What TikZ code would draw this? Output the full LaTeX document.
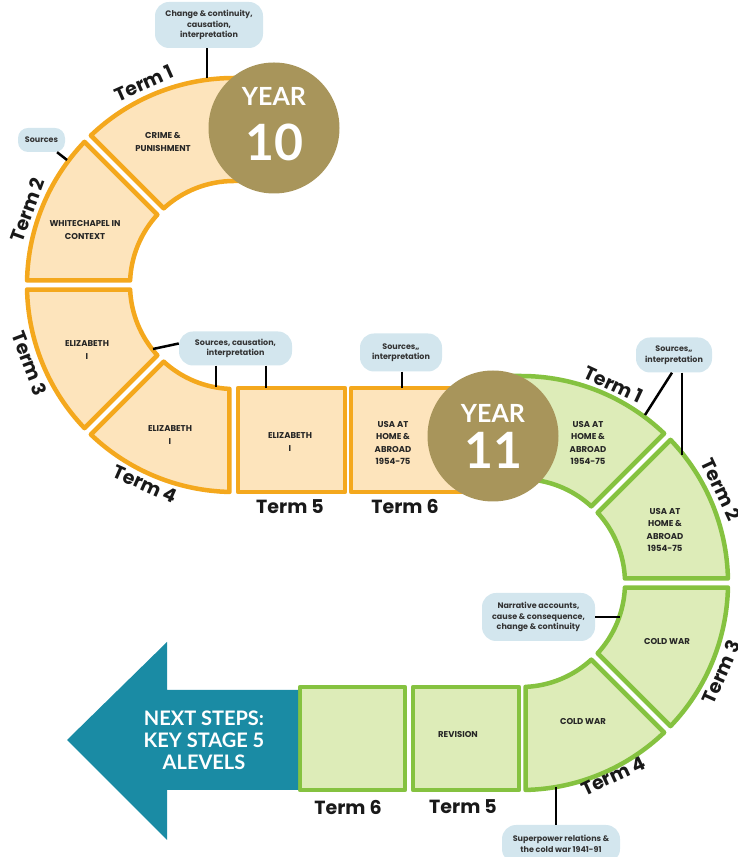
\documentclass[tikz,border=0pt]{standalone}
\usepackage{fontspec}
\setmainfont{Poppins}
\newfontfamily\latofont{Lato}
\usepackage{tikz}
\usetikzlibrary{positioning,calc}

\definecolor{segorange}{HTML}{F4A81D}
\definecolor{segpeach}{HTML}{FDE4BC}
\definecolor{seggreen}{HTML}{85C240}
\definecolor{segmint}{HTML}{DDECB8}
\definecolor{yeargold}{HTML}{A8955B}
\definecolor{bubblue}{HTML}{D3E6EE}
\definecolor{nextteal}{HTML}{1A8BA4}

% radii of the two half rings and the gap offsets
\def\Ro{207}
\def\Ri{104}
\def\dO{1.25}
\def\dI{2.5}

\begin{document}
\begin{tikzpicture}[x=1pt,y=1pt,
    orangeseg/.style={draw=segorange,fill=segpeach,line width=4.5pt,line join=round},
    greenseg/.style={draw=seggreen,fill=segmint,line width=4.5pt,line join=round},
    seglabel/.style={align=center,font=\fontsize{8.5}{12.5}\selectfont\bfseries,text=black!85},
    termlabel/.style={font=\fontsize{19}{20}\selectfont\bfseries,text=black!90},
    bubble/.style={fill=bubblue,rounded corners=14pt,align=center,inner sep=2pt,
        font=\fontsize{8}{10.5}\selectfont\bfseries,text=black!80},
    yearbadge/.style={circle,fill=yeargold,minimum size=131pt,inner sep=0pt},
    yeartext/.style={text=white,font=\latofont\bfseries},
    link/.style={line width=2.5pt}]
    \useasboundingbox (0,0) rectangle (738,857);
    \clip (0,0) rectangle (738,857);

    % Year 10 half ring
    \begin{scope}[shift={(234,572)}]
        \draw[orangeseg] (40,\Ro) -- (90:\Ro) arc[start angle=90,end angle=135-\dO,radius=\Ro]
            -- (135-\dI:\Ri) arc[start angle=135-\dI,end angle=90,radius=\Ri] -- (40,\Ri) -- cycle;
        \foreach \a/\b in {135/180,180/225,225/270}
            \draw[orangeseg] (\a+\dO:\Ro) arc[start angle=\a+\dO,end angle=\b-\dO,radius=\Ro]
                -- (\b-\dI:\Ri) arc[start angle=\b-\dI,end angle=\a+\dI,radius=\Ri] -- cycle;
        \node[termlabel,rotate=24] (lterm1) at (114:221) {Term 1};
        \node[termlabel,rotate=70] (lterm2) at (160:220) {Term 2};
        \node[termlabel,rotate=-69] (lterm3) at (201:219) {Term 3};
        \node[termlabel,rotate=-24] (lterm4) at (246:218) {Term 4};
    \end{scope}
    \draw[orangeseg] (238,365) rectangle (345,469);
    \draw[orangeseg] (351,365) rectangle (470,469);

    % Year 11 half ring
    \begin{scope}[shift={(521,274)}]
        \draw[greenseg] (-28,\Ro) -- (90:\Ro) arc[start angle=90,end angle=45+\dO,radius=\Ro]
            -- (45+\dI:\Ri) arc[start angle=45+\dI,end angle=90,radius=\Ri] -- (-28,\Ri) -- cycle;
        \foreach \a/\b in {45/0,0/-45,-45/-90}
            \draw[greenseg] (\a-\dO:\Ro) arc[start angle=\a-\dO,end angle=\b+\dO,radius=\Ro]
                -- (\b+\dI:\Ri) arc[start angle=\b+\dI,end angle=\a-\dI,radius=\Ri] -- cycle;
        \node[termlabel,rotate=-25] (rterm1) at (65:219) {Term 1};
        \node[termlabel,rotate=-65] (rterm2) at (25:221) {Term 2};
        \node[termlabel,rotate=66] (rterm3) at (-24:219) {Term 3};
        \node[termlabel,rotate=25] (rterm4) at (-64.5:214) {Term 4};
    \end{scope}
    \draw[greenseg] (300,67) rectangle (405,170);
    \draw[greenseg] (413,67) rectangle (519,170);

    % next steps arrow
    \fill[nextteal] (67,117) -- (167,215) -- (167,167) -- (298,167) -- (298,67)
        -- (167,67) -- (167,17) -- cycle;
    \node[text=white,align=center,font=\latofont\bfseries\fontsize{20}{22}\selectfont] (next) at (204,117)
        {NEXT STEPS:\\KEY STAGE 5\\ALEVELS};

    % year badges
    \node[yearbadge] (y10) at (274,729) {};
    \node[yeartext,font=\latofont\bfseries\fontsize{25}{25}\selectfont] (y10a) at ([yshift=32]y10.center) {YEAR};
    \node[yeartext,font=\latofont\bfseries\fontsize{50}{50}\selectfont] (y10b) at ([yshift=-14]y10.center) {10};
    \node[yearbadge] (y11) at (493,421) {};
    \node[yeartext,font=\latofont\bfseries\fontsize{25}{25}\selectfont] (y11a) at ([yshift=23]y11.center) {YEAR};
    \node[yeartext,font=\latofont\bfseries\fontsize{50}{50}\selectfont] (y11b) at ([yshift=-14]y11.center) {11};

    % topics
    \node[seglabel] (crime) at (163,715) {CRIME \&\\PUNISHMENT};
    \node[seglabel] (white) at (85,627) {WHITECHAPEL IN\\CONTEXT};
    \node[seglabel] (eliz3) at (87,507) {ELIZABETH\\I};
    \node[seglabel] (eliz4) at (170,422) {ELIZABETH\\I};
    \node[seglabel] (eliz5) at (290,415) {ELIZABETH\\I};
    \node[seglabel] (usa6) at (393,414) {USA AT\\HOME \&\\ABROAD\\1954-75};
    \node[seglabel] (usa1) at (588,414) {USA AT\\HOME \&\\ABROAD\\1954-75};
    \node[seglabel] (usa2) at (665,327) {USA AT\\HOME \&\\ABROAD\\1954-75};
    \node[seglabel] (cold3) at (667,215) {COLD WAR};
    \node[seglabel] (cold4) at (583,135) {COLD WAR};
    \node[seglabel] (revis) at (458,122) {REVISION};

    \node[termlabel] (oterm5) at (290,350) {Term 5};
    \node[termlabel] (oterm6) at (405,350) {Term 6};
    \node[termlabel] (gterm6) at (348,50) {Term 6};
    \node[termlabel] (gterm5) at (463,50) {Term 5};

    % skills bubbles
    \node[bubble,minimum width=108pt,minimum height=46pt] (chgbub) at (209,832)
        {Change \& continuity,\\causation,\\interpretation};
    \node[bubble,minimum width=47pt,minimum height=24pt,rounded corners=10pt] (srcbub) at (41.5,717) {Sources};
    \node[bubble,minimum width=113pt,minimum height=34pt] (scibub) at (235.5,508.5)
        {Sources, causation,\\interpretation};
    \node[bubble,minimum width=82pt,minimum height=38pt] (s2bub) at (401,504.5) {Sources,,\\interpretation};
    \node[bubble,minimum width=76pt,minimum height=35pt] (rsrcbub) at (674,502) {Sources,,\\interpretation};
    \node[bubble,minimum width=113pt,minimum height=48pt] (narbub) at (538.5,240)
        {Narrative accounts,\\cause \& consequence,\\change \& continuity};
    \node[bubble,minimum width=118pt,minimum height=38pt] (supbub) at (561,13)
        {Superpower relations \&\\the cold war 1941-91};

    % connectors
    \coordinate (chgarc) at (207,779);
    \coordinate (srcarc) at (67,697);
    \coordinate (sciarc) at (153,508);
    \coordinate (sci4) at (216,470);
    \coordinate (sci5) at (266,469);
    \coordinate (s2arc) at (402,469);
    \coordinate (rarc1) at (645,442);
    \coordinate (rarc2) at (682,402);
    \coordinate (nararc) at (620,240);
    \coordinate (suparc) at (556,70);
    \draw[link] (chgarc |- chgbub.south) -- (chgarc);
    \draw[link] (srcbub) -- (srcarc);
    \draw[link] ([yshift=5]scibub.west) -- (sciarc);
    \draw[link] (sci4 |- scibub.south) -- (sci4);
    \draw[link] (sci5 |- scibub.south) -- (sci5);
    \draw[link] (s2arc |- s2bub.south) -- (s2arc);
    \draw[link] ([xshift=-2]rsrcbub.south) -- (rarc1);
    \draw[link] (rarc2 |- rsrcbub.south) -- (rarc2);
    \draw[link] (narbub.east) -- (nararc);
    \draw[link] (suparc |- supbub.north) -- (suparc);
\end{tikzpicture}
\end{document}
